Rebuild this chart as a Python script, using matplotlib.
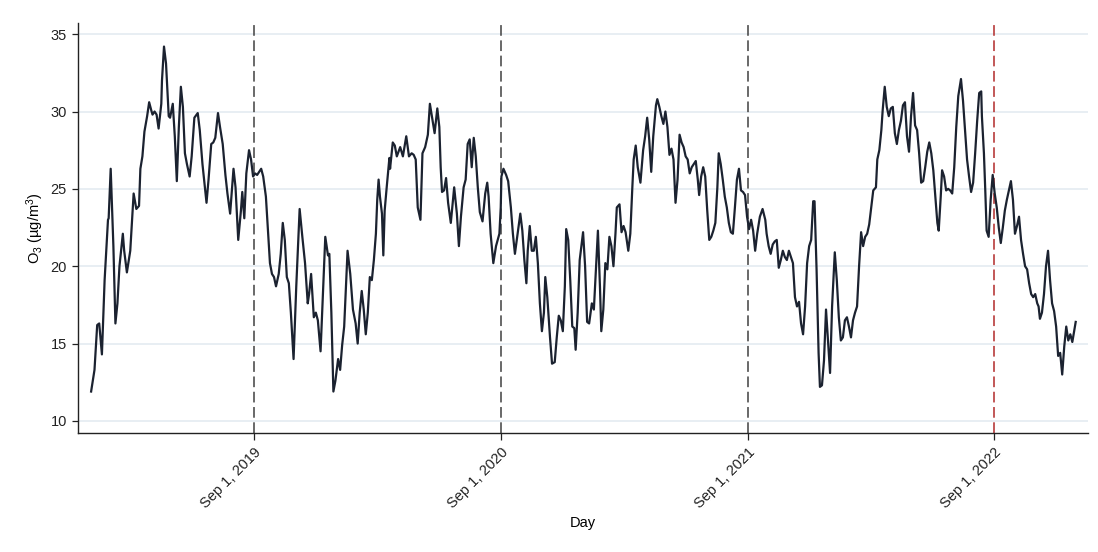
import matplotlib
matplotlib.use("Agg")
import matplotlib.pyplot as plt
import pandas as pd

plt.rcParams['font.family'] = ['Liberation Sans', 'DejaVu Sans']
plt.rcParams['mathtext.fontset'] = 'custom'
plt.rcParams['mathtext.rm'] = 'Liberation Sans'
plt.rcParams['mathtext.it'] = 'Liberation Sans'

# days since 2019-01-01 and the O3 value
start = '2019-01-01'
day = [
    1, 6, 10, 13, 17, 21, 23, 26, 27, 30, 34, 37, 40, 43, 48, 50, 54, 59, 64, 68,
    72, 74, 77, 80, 84, 87, 90, 92, 95, 98, 101, 105, 106, 109, 112, 116, 118, 122, 125, 128,
    131, 134, 137, 140, 143, 147, 150, 154, 159, 162, 166, 172, 175, 179, 182, 185, 189, 192, 196, 200,
    203, 207, 212, 215, 219, 223, 225, 228, 231, 235, 238, 241, 244, 247, 253, 256, 260, 263, 266, 269,
    272, 275, 279, 282, 285, 288, 291, 294, 297, 301, 305, 310, 314, 318, 322, 324, 327, 331, 334, 337,
    341, 344, 348, 352, 354, 357, 360, 363, 367, 370, 373, 376, 378, 381, 385, 389, 393, 396, 399, 402,
    405, 408, 411, 414, 417, 420, 423, 425, 427, 429, 432, 434, 436, 439, 443, 444, 448, 451, 454, 459,
    463, 468, 472, 476, 479, 482, 485, 489, 492, 496, 500, 503, 507, 510, 514, 517, 519, 521, 524, 527,
    530, 534, 539, 543, 546, 549, 553, 556, 559, 562, 565, 568, 571, 574, 577, 581, 585, 588, 590, 593,
    597, 601, 606, 608, 609, 612, 616, 619, 623, 626, 629, 633, 637, 640, 643, 646, 648, 651, 654, 657,
    660, 663, 666, 669, 672, 674, 677, 681, 684, 688, 691, 694, 697, 700, 703, 705, 708, 711, 714, 717,
    719, 722, 725, 730, 733, 736, 739, 743, 746, 749, 752, 755, 757, 760, 763, 766, 769, 772, 775, 778,
    780, 784, 787, 790, 793, 797, 800, 803, 805, 808, 811, 815, 819, 822, 825, 828, 831, 834, 838, 840,
    843, 846, 849, 852, 855, 858, 861, 864, 867, 870, 873, 876, 879, 882, 885, 888, 891, 894, 897, 900,
    902, 905, 908, 911, 914, 917, 920, 923, 926, 929, 931, 934, 937, 940, 943, 946, 949, 952, 955, 958,
    961, 964, 967, 970, 973, 976, 979, 982, 985, 988, 992, 996, 1000, 1002, 1005, 1008, 1011, 1014, 1017, 1020,
    1023, 1026, 1029, 1032, 1035, 1038, 1041, 1044, 1047, 1050, 1053, 1056, 1059, 1062, 1065, 1068, 1071, 1073, 1076, 1079,
    1081, 1084, 1087, 1090, 1093, 1096, 1099, 1103, 1106, 1109, 1112, 1115, 1118, 1121, 1124, 1127, 1130, 1133, 1136, 1139,
    1142, 1145, 1148, 1151, 1154, 1157, 1160, 1164, 1166, 1169, 1172, 1174, 1177, 1180, 1183, 1186, 1189, 1192, 1195, 1198,
    1201, 1204, 1207, 1210, 1213, 1216, 1219, 1222, 1225, 1228, 1231, 1234, 1237, 1240, 1243, 1246, 1249, 1252, 1255, 1257,
    1260, 1262, 1265, 1268, 1271, 1274, 1277, 1280, 1283, 1286, 1290, 1293, 1296, 1299, 1302, 1305, 1308, 1311, 1314, 1317,
    1320, 1321, 1324, 1326, 1328, 1331, 1334, 1337, 1340, 1343, 1346, 1349, 1352, 1355, 1358, 1361, 1364, 1367, 1370, 1373,
    1376, 1379, 1382, 1385, 1388, 1391, 1394, 1397, 1400, 1403, 1405, 1407, 1410, 1413, 1416, 1419, 1422, 1425, 1428, 1431,
    1434, 1437, 1440, 1443, 1446, 1449, 1452, 1455, 1458, 1460,
]
o3 = [
    11.9, 13.3, 16.2, 16.3, 14.3, 19.1, 20.7, 23.0, 23.1, 26.3, 21.3, 16.3, 17.6, 20.0, 22.1, 21.0, 19.6, 21.0, 24.7, 23.7,
    23.9, 26.3, 27.1, 28.7, 29.7, 30.6, 30.1, 29.8, 30.0, 29.8, 28.9, 30.5, 32.0, 34.2, 33.1, 29.7, 29.6, 30.5, 28.4, 25.5,
    29.0, 31.6, 30.3, 27.3, 26.6, 25.8, 27.1, 29.6, 29.9, 28.8, 26.6, 24.1, 25.6, 27.9, 28.0, 28.3, 29.9, 29.0, 27.9, 25.9,
    24.7, 23.4, 26.3, 25.1, 21.7, 23.6, 24.8, 23.1, 26.0, 27.5, 26.9, 25.8, 26.0, 25.9, 26.3, 25.8, 24.5, 22.3, 20.2, 19.5,
    19.3, 18.7, 19.5, 20.8, 22.8, 21.7, 19.3, 18.9, 17.0, 14.0, 18.7, 23.7, 21.9, 20.2, 17.6, 18.2, 19.5, 16.7, 17.0, 16.5,
    14.5, 17.6, 21.9, 20.7, 20.8, 17.0, 11.9, 12.6, 14.0, 13.3, 14.9, 16.1, 18.0, 21.0, 19.5, 17.2, 16.3, 15.0, 17.0, 18.4,
    17.2, 15.6, 17.0, 19.3, 19.1, 20.4, 22.1, 24.3, 25.6, 24.5, 23.4, 20.7, 23.6, 25.1, 27.0, 26.3, 28.0, 27.8, 27.1, 27.7,
    27.1, 28.4, 27.1, 27.3, 27.2, 26.9, 23.8, 23.0, 27.3, 27.7, 28.5, 30.5, 29.4, 28.6, 30.2, 29.0, 26.4, 24.8, 24.9, 25.7,
    24.1, 22.8, 25.1, 23.4, 21.3, 23.2, 25.1, 25.6, 27.9, 28.2, 26.4, 28.3, 27.1, 25.1, 23.5, 22.9, 24.7, 25.4, 24.5, 22.1,
    20.2, 21.3, 22.1, 23.8, 25.8, 26.3, 25.9, 25.5, 23.8, 22.1, 20.8, 22.1, 23.4, 22.3, 20.4, 18.9, 21.0, 22.6, 21.0, 21.0,
    21.9, 20.2, 17.6, 15.8, 17.0, 19.3, 18.0, 15.4, 13.7, 13.8, 15.4, 16.8, 16.5, 15.8, 18.7, 22.4, 21.7, 19.1, 16.1, 16.0,
    14.6, 17.0, 20.4, 22.2, 20.0, 16.4, 16.3, 17.6, 17.2, 19.8, 22.3, 18.7, 15.8, 17.2, 20.2, 19.8, 21.9, 21.3, 20.0, 22.1,
    23.8, 24.0, 22.2, 22.6, 22.2, 21.0, 22.1, 25.1, 26.9, 27.8, 26.4, 25.4, 27.5, 28.4, 29.6, 28.2, 26.1, 28.4, 30.4, 30.8,
    30.3, 29.7, 29.2, 30.0, 29.0, 27.2, 27.6, 26.9, 24.1, 25.6, 28.5, 28.0, 27.7, 27.1, 26.9, 26.0, 26.4, 26.6, 26.8, 25.6,
    24.6, 25.8, 26.4, 25.8, 23.6, 21.7, 21.9, 22.3, 22.8, 25.1, 27.3, 26.6, 25.6, 24.5, 23.8, 22.8, 22.2, 22.1, 23.8, 25.6,
    26.3, 24.9, 24.8, 24.6, 23.2, 22.4, 23.0, 22.3, 21.0, 22.1, 23.2, 23.7, 23.0, 22.1, 21.3, 20.8, 21.4, 21.6, 21.7, 19.9,
    20.4, 21.0, 20.6, 20.4, 21.0, 20.6, 20.2, 18.0, 17.4, 17.7, 16.3, 15.6, 17.4, 20.2, 21.3, 21.7, 24.2, 24.2, 19.8, 14.4,
    12.2, 12.3, 13.9, 17.2, 15.2, 13.1, 17.4, 20.9, 19.1, 16.7, 15.2, 15.4, 16.5, 16.7, 16.1, 15.4, 16.5, 17.0, 17.4, 20.0,
    22.2, 21.3, 21.9, 22.1, 22.7, 23.8, 24.9, 25.1, 26.9, 27.5, 28.8, 30.1, 31.6, 30.3, 29.7, 30.2, 30.3, 28.6, 27.9, 28.8,
    29.4, 30.4, 30.6, 28.4, 27.4, 29.7, 31.2, 29.1, 28.8, 27.3, 25.4, 25.5, 26.4, 27.4, 28.0, 27.3, 26.2, 24.5, 22.8, 22.3,
    24.5, 26.2, 25.8, 24.9, 25.0, 24.9, 24.7, 26.4, 29.0, 31.0, 32.1, 30.7, 28.8, 26.9, 25.8, 24.8, 25.4, 27.3, 29.4, 31.2,
    31.3, 29.7, 27.3, 24.9, 22.3, 21.9, 24.3, 25.9, 24.7, 23.8, 22.5, 21.5, 22.5, 23.6, 24.3, 24.9, 25.5, 24.3, 22.1, 22.6,
    23.2, 21.7, 20.8, 20.0, 19.8, 18.9, 18.2, 18.0, 18.2, 17.6, 17.4, 16.6, 17.0, 18.2, 20.0, 21.0, 19.1, 17.6, 17.1, 16.1,
    14.2, 14.4, 13.0, 14.8, 16.1, 15.2, 15.6, 15.1, 15.9, 16.4,
]

sep_lines = ['2019-09-01', '2020-09-01', '2021-09-01']
red_line = '2022-09-01'
tick_dates = ['2019-09-01', '2020-09-01', '2021-09-01', '2022-09-01']
tick_labels = ['Sep 1, 2019', 'Sep 1, 2020', 'Sep 1, 2021', 'Sep 1, 2022']
yticks = [10, 15, 20, 25, 30, 35]

dates = pd.Timestamp(start) + pd.to_timedelta(day, unit='D')

fig = plt.figure(figsize=(10.98, 5.52), dpi=100)
ax = fig.add_axes([0.071, 0.2156, 0.92, 0.7424])

for y in yticks:
    ax.axhline(y, color='#e8eef3', lw=1.4, zorder=0)

for d in sep_lines:
    ax.axvline(pd.Timestamp(d), color='#404040', lw=1.1, dashes=(7, 3), zorder=1)
ax.axvline(pd.Timestamp(red_line), color='#b22a2a', lw=1.1, dashes=(7, 3), zorder=1)

ax.plot(dates, o3, color='#1b2230', lw=1.6, zorder=3, solid_joinstyle='round')

ax.set_ylim(9.22, 35.71)
ax.set_xlim(pd.Timestamp(start) - pd.Timedelta(days=18.5),
            pd.Timestamp(start) + pd.Timedelta(days=1478.4))
ax.set_yticks(yticks)
ax.set_xticks(pd.to_datetime(tick_dates))
ax.set_xticklabels(tick_labels, rotation=45, ha='right', rotation_mode='anchor')

ax.spines['top'].set_visible(False)
ax.spines['right'].set_visible(False)
for s in ['left', 'bottom']:
    ax.spines[s].set_color('#222222')
    ax.spines[s].set_linewidth(1.0)
ax.tick_params(axis='both', labelsize=10.5, colors='#222222', width=0.9)
ax.tick_params(axis='y', length=4.5)
ax.tick_params(axis='x', length=5)

ax.set_xlabel('Day', fontsize=10.5, labelpad=4)
ax.set_ylabel('O$_3$ (µg/m$^3$)', fontsize=10.5, labelpad=3)

fig.savefig('out.png', dpi=100, facecolor='white')
